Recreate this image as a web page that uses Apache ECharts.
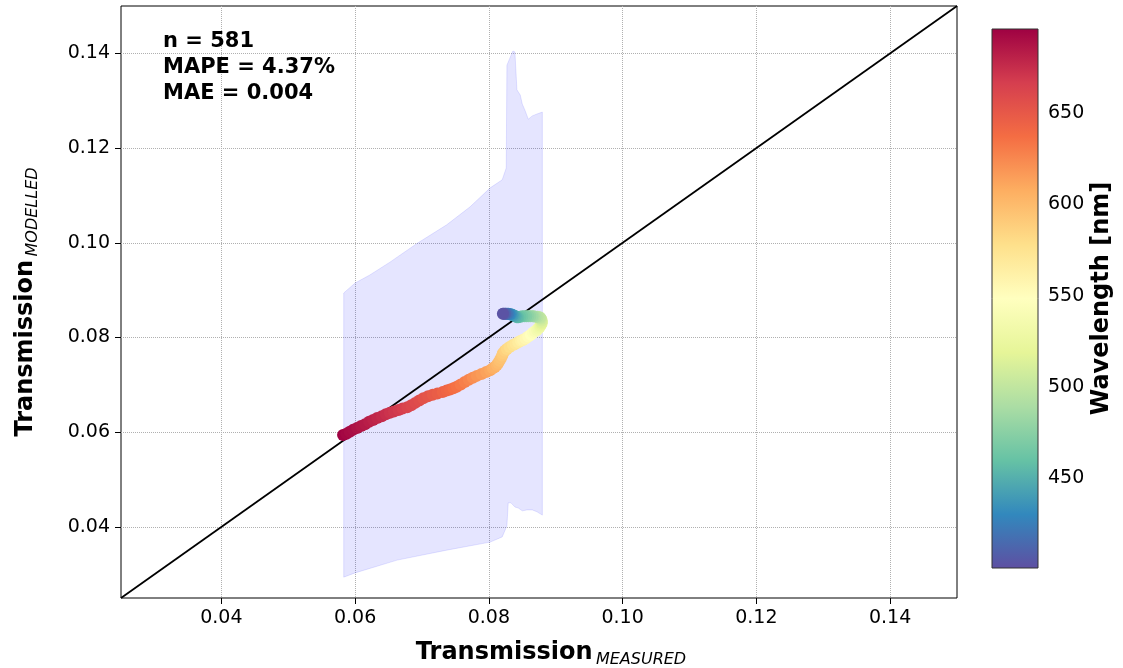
<!DOCTYPE html>
<html>
<head>
<meta charset="utf-8">
<title>Transmission measured vs modelled</title>
<script src="https://cdn.jsdelivr.net/npm/echarts@6.0.0/dist/echarts.min.js"></script>
<style>
  html, body { margin: 0; padding: 0; background: #fff; }
  #chart { width: 1123px; height: 668px; }
</style>
</head>
<body>
<div id="chart"></div>
<script>
// data (path from 695 nm down to 403 nm)
var wavelength = [695, 693, 691, 690, 688, 686, 684, 682, 680, 678, 676, 674, 672, 670, 668, 666, 663, 661, 659, 657,
  654, 652, 649, 647, 644, 642, 640, 637, 635, 632, 629, 626, 622, 619, 616, 613, 610, 607, 605, 602,
  600, 597, 595, 592, 590, 587, 583, 579, 575, 571, 567, 563, 560, 556, 552, 548, 545, 541, 537, 533,
  530, 526, 522, 518, 515, 511, 507, 503, 500, 496, 492, 488, 485, 481, 477, 473, 470, 466, 462, 458,
  455, 451, 447, 443, 440, 435, 430, 425, 420, 416, 412, 408, 403];
var measured = [0.0582, 0.0587, 0.0592, 0.0597, 0.0603, 0.0609, 0.0615, 0.0621, 0.0627, 0.0633, 0.0640, 0.0646, 0.0652, 0.0658, 0.0665, 0.0671, 0.0678, 0.0684, 0.0690, 0.0696,
  0.0702, 0.0709, 0.0716, 0.0723, 0.0731, 0.0737, 0.0742, 0.0747, 0.0752, 0.0758, 0.0764, 0.0770, 0.0776, 0.0782, 0.0789, 0.0796, 0.0802, 0.0806, 0.0809, 0.0812,
  0.0814, 0.0816, 0.0818, 0.0820, 0.0821, 0.0824, 0.0827, 0.0831, 0.0836, 0.0840, 0.0844, 0.0848, 0.0851, 0.0855, 0.0859, 0.0863, 0.0866, 0.0869, 0.0872, 0.0874,
  0.0876, 0.0877, 0.0878, 0.0879, 0.0879, 0.0879, 0.0878, 0.0877, 0.0876, 0.0873, 0.0870, 0.0867, 0.0865, 0.0862, 0.0859, 0.0856, 0.0853, 0.0850, 0.0847, 0.0844,
  0.0842, 0.0840, 0.0838, 0.0836, 0.0835, 0.0833, 0.0831, 0.0829, 0.0827, 0.0825, 0.0824, 0.0822, 0.0821];
var modelled = [0.0594, 0.0597, 0.0601, 0.0605, 0.0609, 0.0613, 0.0617, 0.0622, 0.0626, 0.0630, 0.0634, 0.0638, 0.0641, 0.0644, 0.0647, 0.0650, 0.0653, 0.0657, 0.0662, 0.0667,
  0.0672, 0.0676, 0.0679, 0.0682, 0.0685, 0.0688, 0.0690, 0.0693, 0.0696, 0.0701, 0.0706, 0.0711, 0.0715, 0.0719, 0.0723, 0.0727, 0.0731, 0.0735, 0.0738, 0.0742,
  0.0746, 0.0751, 0.0756, 0.0762, 0.0767, 0.0772, 0.0776, 0.0780, 0.0784, 0.0787, 0.0790, 0.0793, 0.0795, 0.0798, 0.0802, 0.0806, 0.0810, 0.0813, 0.0816, 0.0819,
  0.0822, 0.0825, 0.0828, 0.0830, 0.0833, 0.0836, 0.0839, 0.0841, 0.0843, 0.0844, 0.0844, 0.0845, 0.0845, 0.0845, 0.0845, 0.0845, 0.0845, 0.0845, 0.0844, 0.0843,
  0.0843, 0.0845, 0.0846, 0.0847, 0.0848, 0.0849, 0.0849, 0.0850, 0.0850, 0.0850, 0.0850, 0.0850, 0.0850];

// uncertainty band outline (upper edge left->right, lower edge right->left)
var upperX = [0.0583, 0.0600, 0.0622, 0.0652, 0.0693, 0.0737, 0.0772, 0.0802, 0.0820, 0.0826, 0.0827, 0.0832, 0.0836, 0.0839, 0.0842, 0.0847, 0.0850, 0.0854, 0.0859, 0.0865, 0.0872, 0.0880];
var upperY = [0.0894, 0.0915, 0.0932, 0.0959, 0.0999, 0.1038, 0.1076, 0.1116, 0.1133, 0.1158, 0.1375, 0.1392, 0.1405, 0.1403, 0.1323, 0.1312, 0.1293, 0.1280, 0.1261, 0.1268, 0.1272, 0.1276];
var lowerX = [0.0880, 0.0872, 0.0865, 0.0857, 0.0850, 0.0844, 0.0839, 0.0833, 0.0829, 0.0827, 0.0820, 0.0802, 0.0737, 0.0663, 0.0600, 0.0583];
var lowerY = [0.0425, 0.0432, 0.0436, 0.0436, 0.0434, 0.0440, 0.0442, 0.0451, 0.0451, 0.0402, 0.0379, 0.0368, 0.0351, 0.0330, 0.0303, 0.0294];

var oneToOne = [[0.025, 0.025], [0.15, 0.15]];
var axisTicks = [0.04, 0.06, 0.08, 0.10, 0.12, 0.14];
var cbarTicks = [450, 500, 550, 600, 650];
var wlMin = 401, wlMax = 696;

// Spectral_r
var spectralR = ['#5e4fa2', '#3288bd', '#66c2a5', '#abdda4', '#e6f598', '#ffffbf', '#fee08b', '#fdae61', '#f46d43', '#d53e4f', '#9e0142'];

var points = [];
for (var i = 0; i < wavelength.length; i++) {
  points.push([measured[i], modelled[i], wavelength[i]]);
}

var font = 'DejaVu Sans';

var nameRich = {
  b: { fontFamily: font, fontSize: 24, fontWeight: 'bold', color: '#000', lineHeight: 30 },
  s: { fontFamily: font, fontSize: 16, fontStyle: 'italic', color: '#000', lineHeight: 17, verticalAlign: 'bottom' }
};

function mainAxis(name, pos) {
  return {
    type: 'value',
    position: pos,
    min: 0.025,
    max: 0.15,
    name: name,
    nameLocation: 'middle',
    axisLine: { show: false },
    axisTick: { show: true, customValues: axisTicks, length: 6, lineStyle: { color: '#000', width: 1 } },
    axisLabel: {
      customValues: axisTicks, fontFamily: font, fontSize: 19, color: '#000', margin: 11,
      formatter: function (v) { return v.toFixed(2); }
    },
    splitLine: { show: true, lineStyle: { color: '#b0b0b0', type: 'dotted', width: 1 } }
  };
}

var xMain = mainAxis('{b|Transmission} {s|MEASURED}', 'bottom');
xMain.nameGap = 40;
xMain.nameTextStyle = { padding: [0, 0, 0, 24], rich: nameRich };
var yMain = mainAxis('{b|Transmission} {s|MODELLED}', 'left');
yMain.nameGap = 80;
yMain.nameTextStyle = { rich: nameRich };

var stops = spectralR.map(function (c, k) { return { offset: k / (spectralR.length - 1), color: c }; });

var option = {
  animation: false,
  backgroundColor: '#fff',
  grid: [
    { left: 121, top: 6, width: 836, height: 592, outerBoundsMode: 'none', containLabel: false,
      show: true, borderColor: '#000', borderWidth: 1, backgroundColor: 'transparent' },
    { left: 992, top: 29, width: 46, height: 539, outerBoundsMode: 'none', containLabel: false, show: false }
  ],
  xAxis: [
    xMain,
    { type: 'value', gridIndex: 1, min: 0, max: 1, show: false }
  ],
  yAxis: [
    yMain,
    {
      type: 'value', gridIndex: 1, position: 'right', min: wlMin, max: wlMax,
      name: 'Wavelength [nm]', nameLocation: 'middle', nameRotate: 90, nameGap: 52,
      nameTextStyle: { fontFamily: font, fontSize: 24, fontWeight: 'bold', color: '#000' },
      axisLine: { show: false },
      axisTick: { show: true, customValues: cbarTicks, length: 6, lineStyle: { color: '#000' } },
      axisLabel: { customValues: cbarTicks, fontFamily: font, fontSize: 19, color: '#000', margin: 10 },
      splitLine: { show: false }
    }
  ],
  visualMap: {
    type: 'continuous', show: false, seriesIndex: 2, dimension: 2,
    min: wlMin, max: wlMax, inRange: { color: spectralR }
  },
  graphic: [{
    type: 'text', left: 163, top: 29, z: 100,
    style: {
      text: 'n = 581\nMAPE = 4.37%\nMAE = 0.004',
      font: 'bold 21px "DejaVu Sans"', lineHeight: 26, fill: '#000'
    }
  }],
  series: [
    {
      // shaded band
      type: 'custom', xAxisIndex: 0, yAxisIndex: 0, z: 1,
      data: [[0.07, 0.08]],
      renderItem: function (params, api) {
        var pts = [];
        for (var a = 0; a < upperX.length; a++) pts.push(api.coord([upperX[a], upperY[a]]));
        for (var b = 0; b < lowerX.length; b++) pts.push(api.coord([lowerX[b], lowerY[b]]));
        return {
          type: 'polygon', shape: { points: pts },
          style: { fill: 'rgba(0,0,255,0.1)', stroke: 'rgba(0,0,255,0.1)', lineWidth: 1 }
        };
      }
    },
    {
      type: 'line', xAxisIndex: 0, yAxisIndex: 0, z: 3,
      data: oneToOne, symbol: 'none',
      lineStyle: { color: '#000', width: 1.8 }
    },
    {
      type: 'scatter', xAxisIndex: 0, yAxisIndex: 0, z: 4,
      data: points, symbol: 'circle', symbolSize: 12,
      itemStyle: { opacity: 1 }
    },
    {
      // colorbar
      type: 'custom', xAxisIndex: 1, yAxisIndex: 1,
      data: [[0.5, wlMin]],
      renderItem: function (params, api) {
        var cs = params.coordSys;
        return {
          type: 'rect',
          shape: { x: cs.x, y: cs.y, width: cs.width, height: cs.height },
          style: {
            fill: { type: 'linear', x: 0, y: 1, x2: 0, y2: 0, colorStops: stops },
            stroke: '#333', lineWidth: 1
          }
        };
      }
    }
  ]
};

var myChart = echarts.init(document.getElementById('chart'));
myChart.setOption(option);
</script>
</body>
</html>
